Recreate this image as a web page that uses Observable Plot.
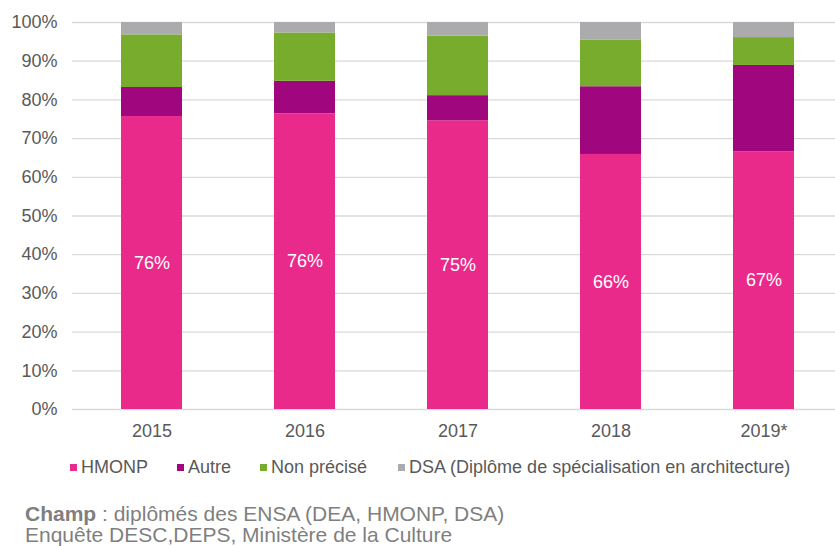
<!DOCTYPE html>
<html>
<head>
<meta charset="utf-8">
<script src="https://cdn.jsdelivr.net/npm/d3@7"></script>
<script src="https://cdn.jsdelivr.net/npm/@observablehq/plot@0.6"></script>
<style>
  html, body { margin: 0; padding: 0; background: #fff; }
  body { width: 835px; height: 546px; position: relative; overflow: hidden; font-family: "Liberation Sans", Arial, sans-serif; }
  #legend { position: absolute; left: 70px; top: 455px; height: 24px; display: flex; align-items: center; font-size: 18px; color: #595959; white-space: nowrap; }
  .item { display: flex; align-items: center; margin-right: 29px; }
  .item:nth-child(3) { margin-right: 31px; }
  .sw { width: 7px; height: 7px; margin-right: 4px; }
  #caption { position: absolute; left: 25px; top: 503px; font-size: 21px; line-height: 21px; color: #7f7f7f; white-space: nowrap; }
</style>
</head>
<body>
<div id="chart"></div>
<div id="legend"></div>
<div id="caption"><b>Champ</b> : diplômés des ENSA (DEA, HMONP, DSA)<br>Enquête DESC,DEPS, Ministère de la Culture</div>
<script>
const years = ["2015", "2016", "2017", "2018", "2019*"];
const categories = ["HMONP", "Autre", "Non précisé", "DSA (Diplôme de spécialisation en architecture)"];
const colors = ["#EA2A8B", "#A0067D", "#78AC2C", "#ABABAE"];
const hmonp = [75.7, 76.4, 74.6, 65.9, 66.6];
const autre = [7.5, 8.4, 6.5, 17.5, 22.3];
const nonPrecise = [13.6, 12.5, 15.4, 12.0, 7.2];
const dsa = [3.2, 2.7, 3.5, 4.6, 3.9];
const hmonpLabels = ["76%", "76%", "75%", "66%", "67%"];
const yTicks = [0, 10, 20, 30, 40, 50, 60, 70, 80, 90, 100];

const series = [hmonp, autre, nonPrecise, dsa];
const data = [];
years.forEach((y, i) => {
  categories.forEach((c, j) => data.push({year: y, cat: c, value: series[j][i]}));
});
const labelData = years.map((y, i) => ({year: y, mid: hmonp[i] / 2, label: hmonpLabels[i]}));

const chart = Plot.plot({
  width: 835,
  height: 450,
  marginLeft: 72,
  marginRight: 0,
  marginTop: 22,
  marginBottom: 41,
  style: {fontFamily: "'Liberation Sans', Arial, sans-serif", fontSize: "18px", background: "#fff"},
  x: {domain: years, range: [73, 842.5], paddingInner: 0.6, paddingOuter: 0.3, label: null},
  y: {domain: [0, 100], label: null},
  color: {domain: categories, range: colors},
  marks: [
    Plot.gridY(yTicks, {stroke: "#d9d9d9", strokeOpacity: 1, strokeWidth: 1.3}),
    Plot.barY(data, {x: "year", y: "value", z: "cat", fill: "cat", order: categories}),
    Plot.text(labelData, {x: "year", y: "mid", text: "label", fill: "white", fontSize: 18}),
    Plot.axisY(yTicks, {tickSize: 0, tickPadding: 15, fill: "#595959", tickFormat: d => d + "%", label: null}),
    Plot.axisX({tickSize: 0, tickPadding: 15, fill: "#595959", label: null})
  ]
});
document.getElementById("chart").appendChild(chart);

const legend = document.getElementById("legend");
categories.forEach((c, i) => {
  const item = document.createElement("div");
  item.className = "item";
  const sw = document.createElement("div");
  sw.className = "sw";
  sw.style.background = colors[i];
  const t = document.createElement("span");
  t.textContent = c;
  item.appendChild(sw);
  item.appendChild(t);
  legend.appendChild(item);
});
</script>
</body>
</html>
